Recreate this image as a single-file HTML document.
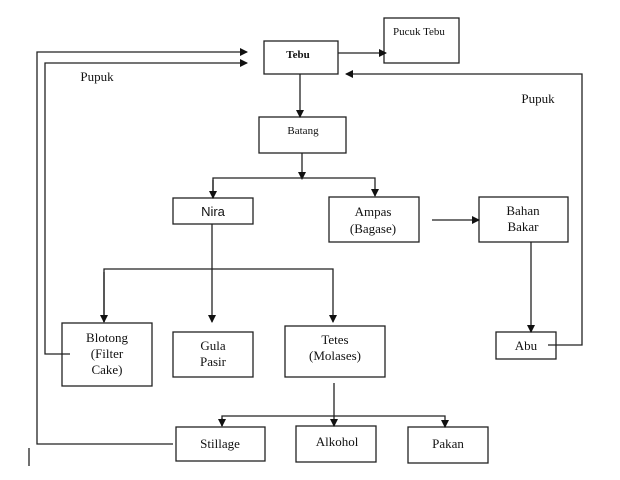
<!DOCTYPE html>
<html><head><style>
html,body{margin:0;padding:0;background:#fff;}
svg{display:block;}
text{font-family:"Liberation Serif",serif;font-size:13px;fill:#111;text-anchor:middle;}
</style></head><body>
<svg width="620" height="480" viewBox="0 0 620 480" xmlns="http://www.w3.org/2000/svg">
<defs><marker id="a" markerWidth="8" markerHeight="8" refX="7" refY="4" orient="auto" markerUnits="userSpaceOnUse"><path d="M0,0 L8,4 L0,8 z" fill="#111"/></marker></defs>
<g fill="none" stroke="#222" stroke-width="1.3">
<rect x="264" y="41" width="74" height="33"/>
<rect x="384" y="18" width="75" height="45"/>
<rect x="259" y="117" width="87" height="36"/>
<rect x="173" y="198" width="80" height="26"/>
<rect x="329" y="197" width="90" height="45"/>
<rect x="479" y="197" width="89" height="45"/>
<rect x="496" y="332" width="60" height="27"/>
<rect x="62" y="323" width="90" height="63"/>
<rect x="173" y="332" width="80" height="45"/>
<rect x="285" y="326" width="100" height="51"/>
<rect x="176" y="427" width="89" height="34"/>
<rect x="296" y="426" width="80" height="36"/>
<rect x="408" y="427" width="80" height="36"/>
<line x1="338" y1="53" x2="386" y2="53" marker-end="url(#a)"/>
<polyline points="173,444 37,444 37,52 247,52" marker-end="url(#a)"/>
<polyline points="70,354 45,354 45,63 247,63" marker-end="url(#a)"/>
<polyline points="548,345 582,345 582,74 346,74" marker-end="url(#a)"/>
<line x1="300" y1="74" x2="300" y2="117" marker-end="url(#a)"/>
<line x1="302" y1="153" x2="302" y2="179" marker-end="url(#a)"/>
<polyline points="213,198 213,178 375,178 375,196" marker-end="url(#a)"/>
<line x1="213" y1="180" x2="213" y2="198" marker-end="url(#a)"/>
<line x1="432" y1="220" x2="479" y2="220" marker-end="url(#a)"/>
<line x1="531" y1="242" x2="531" y2="332" marker-end="url(#a)"/>
<line x1="212" y1="224" x2="212" y2="322" marker-end="url(#a)"/>
<polyline points="104,322 104,269 333,269 333,322" marker-end="url(#a)"/>
<line x1="104" y1="272" x2="104" y2="322" marker-end="url(#a)"/>
<line x1="334" y1="383" x2="334" y2="426" marker-end="url(#a)"/>
<polyline points="222,426 222,416 445,416 445,427" marker-end="url(#a)"/>
<line x1="222" y1="418" x2="222" y2="426" marker-end="url(#a)"/>
<line x1="29" y1="448" x2="29" y2="466"/>
</g>
<text x="298" y="58" style="font-weight:bold;font-size:11px">Tebu</text>
<text x="419" y="35" style="font-size:11px">Pucuk Tebu</text>
<text x="303" y="134" style="font-size:11px">Batang</text>
<text x="213" y="216" style="font-family:'Liberation Sans',sans-serif;font-size:13px">Nira</text>
<text x="373" y="216">Ampas</text>
<text x="373" y="233">(Bagase)</text>
<text x="523" y="215">Bahan</text>
<text x="523" y="231">Bakar</text>
<text x="526" y="350">Abu</text>
<text x="107" y="342">Blotong</text>
<text x="107" y="358">(Filter</text>
<text x="107" y="374">Cake)</text>
<text x="213" y="350">Gula</text>
<text x="213" y="366">Pasir</text>
<text x="335" y="344">Tetes</text>
<text x="335" y="360">(Molases)</text>
<text x="220" y="448">Stillage</text>
<text x="337" y="446">Alkohol</text>
<text x="448" y="448">Pakan</text>
<text x="97" y="81">Pupuk</text>
<text x="538" y="103">Pupuk</text>
</svg>
</body></html>
